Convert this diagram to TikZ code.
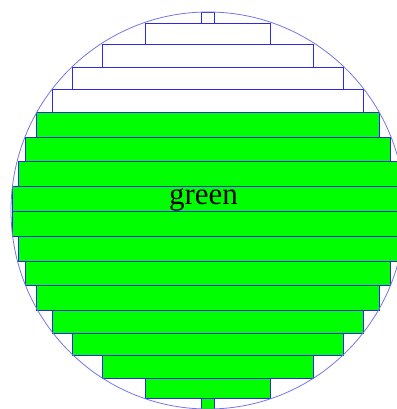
\documentclass[tikz,border=0pt]{standalone}
\usepackage{fontspec}
\usepackage{xcolor}
\usepackage{tikz}
\setmainfont{Liberation Serif}
\definecolor{strip}{HTML}{00FF00}
\definecolor{edge}{HTML}{2A2AE0}
\definecolor{rim}{HTML}{7474E8}

\begin{document}
\begin{tikzpicture}[x=1pt, y=-1pt, every node/.style={font=\fontsize{31}{36}\selectfont}]
  \useasboundingbox (0,0) rectangle (396,409);
  % empty strips above
  \foreach \ya/\yb/\w in {12/23/6.8, 23/44/62.8, 44/67/105.5, 67/89/135.4, 89/112/155.8}
    \draw[edge, line width=0.9pt] (208-\w,\ya) rectangle (208+\w,\yb);
  % green strips
  \foreach \ya/\yb/\w in {112/137/171.6, 137/161/182.2, 161/186/190, 186/211/195.7,
      211/236/195.7, 236/261/190, 261/285/182.2, 285/310/171.6, 310/333/155.8,
      333/355/135.4, 355/378/105.5, 378/398/62.8, 398/409/6.8}
    \draw[edge, fill=strip, line width=0.9pt] (208-\w,\ya) rectangle (208+\w,\yb);
  \draw[rim, line width=0.8pt] (208,210.5) ellipse [x radius=197pt, y radius=198.5pt];
  \node[anchor=base] (label) at (203.5,204.3) {green};
\end{tikzpicture}
\end{document}
